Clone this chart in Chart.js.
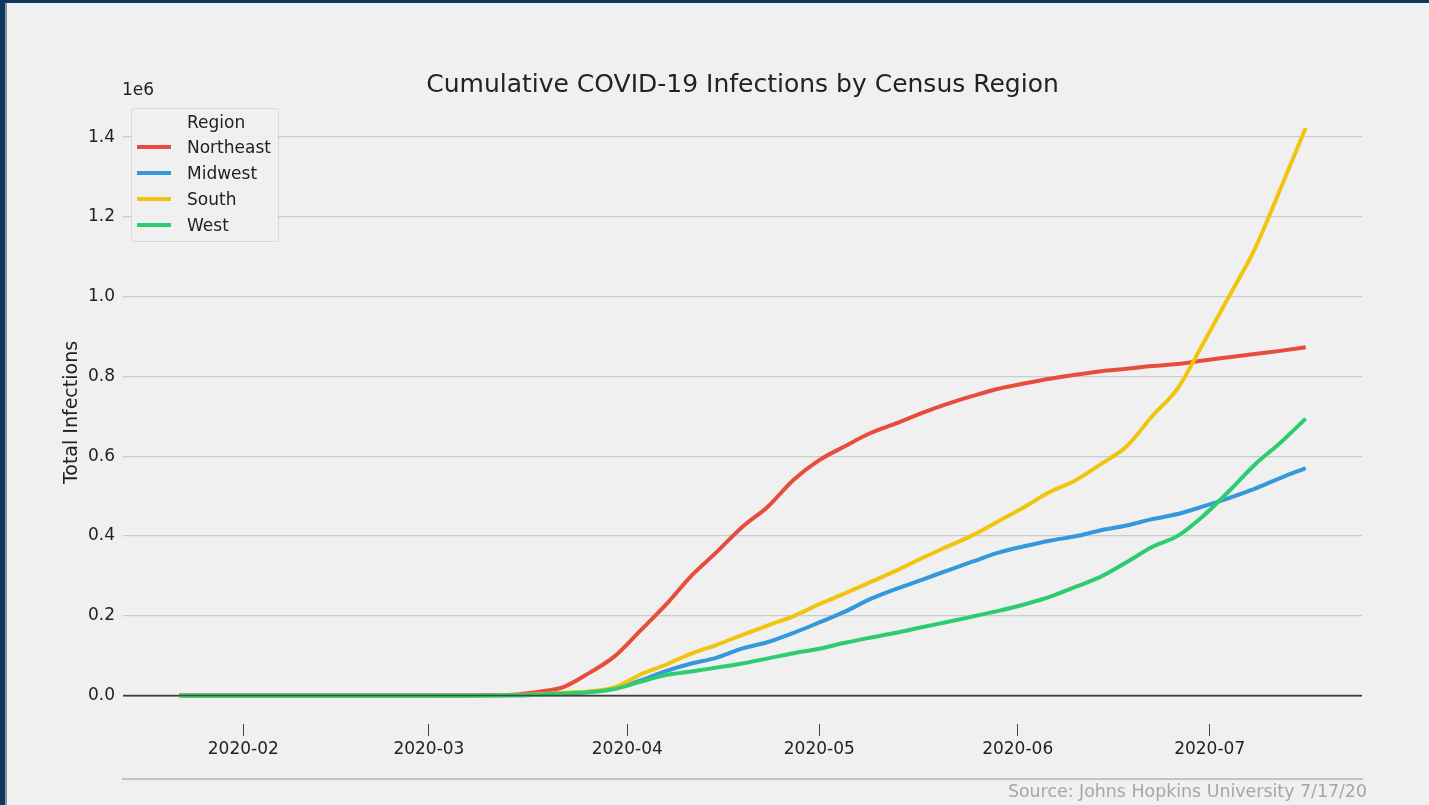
<!DOCTYPE html>
<html>
<head>
<meta charset="utf-8">
<title>Cumulative COVID-19 Infections by Census Region</title>
<script src="https://cdn.jsdelivr.net/npm/chart.js@4.4.0/dist/chart.umd.min.js"></script>
<style>
  html, body { margin: 0; padding: 0; background: #f0f0f0; overflow: hidden; }
  #wrap { position: relative; width: 1429px; height: 805px; }
  #edgeLeft { position: absolute; left: 0; top: 0; width: 5px; height: 805px; background: #0d375f; }
  #edgeLeft2 { position: absolute; left: 5px; top: 0; width: 2px; height: 805px; background: #8f949a; }
  #edgeTop { position: absolute; left: 0; top: 0; width: 1429px; height: 3px; background: #0d375f; }
</style>
</head>
<body>
<div id="wrap">
  <canvas id="theChart" width="1429" height="805"></canvas>
  <div id="edgeLeft"></div>
  <div id="edgeLeft2"></div>
  <div id="edgeTop"></div>
</div>
<script>
// values, in infections (1e6 scale on the axis)
const dates = [
  "2020-01-22", "2020-02-15", "2020-03-01", "2020-03-10", "2020-03-14", "2020-03-18",
  "2020-03-22", "2020-03-26", "2020-03-30", "2020-04-03", "2020-04-07", "2020-04-11",
  "2020-04-15", "2020-04-19", "2020-04-23", "2020-04-27", "2020-05-01", "2020-05-05",
  "2020-05-09", "2020-05-13", "2020-05-17", "2020-05-21", "2020-05-25", "2020-05-29",
  "2020-06-02", "2020-06-06", "2020-06-10", "2020-06-14", "2020-06-18", "2020-06-22",
  "2020-06-26", "2020-06-30", "2020-07-04", "2020-07-08", "2020-07-12", "2020-07-16",
];
const northeast = [
  0, 0, 0, 1000, 2000, 9000,
  21000, 56000, 98000, 162000, 227000, 300000,
  360000, 423000, 474000, 541000, 590000, 625000,
  658000, 682000, 708000, 731000, 751000, 769000,
  782000, 794000, 804000, 813000, 819000, 826000,
  831000, 840000, 848000, 856000, 864000, 873000,
];
const midwest = [
  0, 0, 0, 0, 500, 2000,
  6000, 9000, 17000, 37000, 61000, 80000,
  95000, 118000, 134000, 157000, 183000, 210000,
  242000, 267000, 290000, 313000, 336000, 358000,
  374000, 388000, 399000, 414000, 426000, 442000,
  455000, 474000, 495000, 518000, 545000, 570000,
];
const south = [
  0, 0, 0, 0, 1000, 3000,
  7000, 10000, 20000, 52000, 77000, 105000,
  127000, 152000, 176000, 199000, 229000, 256000,
  284000, 313000, 344000, 373000, 402000, 437000,
  472000, 510000, 539000, 580000, 624000, 700000,
  770000, 883000, 1000000, 1118000, 1268000, 1423000,
];
const west = [
  0, 0, 0, 0, 500, 2000,
  5000, 8000, 16000, 34000, 51000, 60000,
  70000, 80000, 93000, 106000, 117000, 132000,
  145000, 157000, 171000, 184000, 198000, 212000,
  228000, 247000, 272000, 298000, 334000, 372000,
  400000, 450000, 512000, 578000, 633000, 694000,
];

const regionNames = ["Northeast", "Midwest", "South", "West"];
const regionColors = ["#e74c3c", "#3498db", "#f1c40f", "#2ecc71"];
const legendTitle = "Region";

const monthTicks = ["2020-02-01", "2020-03-01", "2020-04-01", "2020-05-01", "2020-06-01", "2020-07-01"];
const monthLabels = ["2020-02", "2020-03", "2020-04", "2020-05", "2020-06", "2020-07"];
const yTicks = [0, 200000, 400000, 600000, 800000, 1000000, 1200000, 1400000];

const chartTitle = "Cumulative COVID-19 Infections by Census Region";
const yTitle = "Total Infections";
const offsetText = "1e6";
const sourceText = "Source: Johns Hopkins University 7/17/20";

const FONT = "'DejaVu Sans', 'Liberation Sans', sans-serif";
const TEXT = "#222222";

// day number counted from 2020-01-01
function dayOf(s) {
  const p = s.split("-").map(Number);
  return (Date.UTC(p[0], p[1] - 1, p[2]) - Date.UTC(2020, 0, 1)) / 864e5;
}

function series(values) {
  return values.map((v, i) => ({ x: dayOf(dates[i]), y: v }));
}

const allSeries = [northeast, midwest, south, west];

const data = {
  datasets: allSeries.map((vals, i) => ({
    label: regionNames[i],
    data: series(vals),
    borderColor: regionColors[i],
    backgroundColor: regionColors[i],
    borderWidth: 4,
    pointRadius: 0,
    fill: false,
    cubicInterpolationMode: "monotone",
    order: allSeries.length - 1 - i, // last series on top, like the original
  })),
};

const extras = {
  id: "extras",
  afterDatasetsDraw(chart) {
    // zero line sits over the series
    const ctx = chart.ctx;
    const y0 = chart.scales.y.getPixelForValue(0);
    ctx.save();
    ctx.beginPath();
    ctx.moveTo(chart.chartArea.left, y0);
    ctx.lineTo(chart.chartArea.right, y0);
    ctx.strokeStyle = "rgba(60,60,60,0.85)";
    ctx.lineWidth = 1.6;
    ctx.stroke();
    ctx.restore();
  },
  afterDraw(chart) {
    const ctx = chart.ctx;
    ctx.save();

    // 1e6
    ctx.font = "17px " + FONT;
    ctx.fillStyle = TEXT;
    ctx.textAlign = "left";
    ctx.textBaseline = "middle";
    ctx.fillText(offsetText, 122, 91);

    // legend
    ctx.beginPath();
    ctx.roundRect(131.5, 108.5, 147, 133, 3);
    ctx.fillStyle = "rgba(240,240,240,0.92)";
    ctx.fill();
    ctx.strokeStyle = "#d8d8d8";
    ctx.lineWidth = 1;
    ctx.stroke();

    ctx.fillStyle = TEXT;
    ctx.fillText(legendTitle, 187, 123.5);
    chart.data.datasets.forEach((ds, i) => {
      const y = 147 + i * 26;
      ctx.beginPath();
      ctx.moveTo(137, y);
      ctx.lineTo(171, y);
      ctx.strokeStyle = ds.borderColor;
      ctx.lineWidth = 4;
      ctx.stroke();
      ctx.fillStyle = TEXT;
      ctx.fillText(ds.label, 187, y + 1.5);
    });

    // source line and text
    ctx.beginPath();
    ctx.moveTo(122, 779);
    ctx.lineTo(1363, 779);
    ctx.strokeStyle = "#b4b4b4";
    ctx.lineWidth = 1.5;
    ctx.stroke();

    ctx.font = "17.4px " + FONT;
    ctx.fillStyle = "#a6a6a6";
    ctx.textAlign = "right";
    ctx.fillText(sourceText, 1367, 792.5);

    ctx.restore();
  },
};

const config = {
  type: "line",
  data: data,
  plugins: [extras],
  options: {
    responsive: false,
    animation: false,
    events: [],
    layout: {
      padding: { left: 0, right: 67, top: 0, bottom: 0 },
    },
    plugins: {
      legend: { display: false },
      tooltip: { enabled: false },
      title: {
        display: true,
        fullSize: false,
        text: chartTitle,
        color: TEXT,
        font: { family: FONT, size: 25, weight: "normal", lineHeight: 1.2 },
        padding: { top: 70, bottom: 1 },
      },
    },
    scales: {
      x: {
        type: "linear",
        min: 12.2,
        max: 205.8,
        border: { display: false },
        grid: {
          display: true,
          drawOnChartArea: false,
          drawTicks: true,
          tickLength: 12,
          tickColor: "#444444",
          lineWidth: 1,
        },
        ticks: {
          color: TEXT,
          font: { family: FONT, size: 17 },
          padding: 3,
          maxRotation: 0,
          callback: (v) => {
            const k = monthTicks.findIndex((m) => dayOf(m) === v);
            return k >= 0 ? monthLabels[k] : "";
          },
        },
        afterBuildTicks: (scale) => {
          scale.ticks = monthTicks.map((m) => ({ value: dayOf(m) }));
        },
        afterFit: (scale) => {
          scale.height = 81;
        },
      },
      y: {
        type: "linear",
        min: -71600,
        max: 1490500,
        border: { display: false },
        grid: {
          drawTicks: false,
          color: (c) => (c.tick && c.tick.value === 0 ? "#4d4d4d" : "#cbcbcb"),
          lineWidth: (c) => (c.tick && c.tick.value === 0 ? 1.6 : 1.3),
        },
        ticks: {
          color: TEXT,
          font: { family: FONT, size: 17 },
          padding: 8,
          callback: (v) => (v / 1e6).toFixed(1),
        },
        afterBuildTicks: (scale) => {
          scale.ticks = yTicks.map((v) => ({ value: v }));
        },
        afterFit: (scale) => {
          scale.width = 123;
        },
        title: {
          display: true,
          text: yTitle,
          color: TEXT,
          font: { family: FONT, size: 19, lineHeight: 1.2 },
          padding: { top: 61, bottom: 0 },
        },
      },
    },
  },
};

const theChart = new Chart(document.getElementById("theChart"), config);
</script>
</body>
</html>
